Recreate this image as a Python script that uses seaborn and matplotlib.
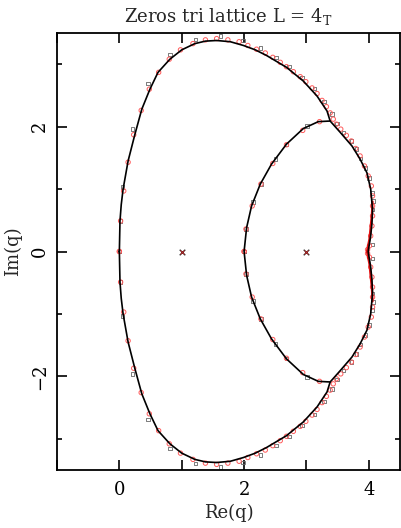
import numpy as np
import pandas as pd
import matplotlib
matplotlib.use("Agg")
import matplotlib.pyplot as plt
from matplotlib.ticker import FuncFormatter
import seaborn as sns

# ---- data (upper half; lower half is the complex conjugate) ----
outer_x = [0.00, 0.01, 0.03, 0.06, 0.14, 0.25, 0.36, 0.49, 0.62, 0.81, 1.00, 1.21, 1.38,
           1.56, 1.78, 1.99, 2.18, 2.36, 2.68, 2.95, 3.17, 3.33, 3.38, 3.54, 3.73, 3.86,
           3.97, 4.03, 4.06, 4.05, 4.03, 3.99]
outer_y = [0.00, 0.49, 0.75, 1.00, 1.45, 1.88, 2.28, 2.60, 2.87, 3.08, 3.23, 3.33, 3.37,
           3.38, 3.36, 3.30, 3.23, 3.14, 2.95, 2.73, 2.49, 2.25, 2.09, 1.91, 1.69, 1.48,
           1.26, 1.00, 0.67, 0.45, 0.25, 0.00]
inner_x = [3.38, 3.19, 2.95, 2.68, 2.44, 2.26, 2.12, 2.04, 2.00]
inner_y = [2.09, 2.08, 1.97, 1.72, 1.40, 1.08, 0.73, 0.38, 0.00]
red_seg_x = [4.06, 4.05, 4.03, 4.01, 3.97]
red_seg_y = [0.80, 0.60, 0.40, 0.20, 0.00]

circ_x = [0.00, 0.02, 0.07, 0.14, 0.23, 0.35, 0.48, 0.63, 0.80, 0.98, 1.18, 1.38, 1.56,
          1.74, 1.92, 2.06, 2.20, 2.34, 2.46, 2.58, 2.68, 2.79, 2.90, 2.99, 3.09, 3.17,
          3.25, 3.32, 3.38, 3.43, 3.48, 3.55, 3.64, 3.72, 3.79, 3.86, 3.93, 3.99, 4.04,
          4.06, 4.06, 4.06, 4.05, 4.03, 4.01, 3.98,
          3.21, 2.94, 2.68, 2.46, 2.27, 2.13, 2.03, 2.00]
circ_y = [0.00, 0.49, 0.97, 1.43, 1.87, 2.26, 2.60, 2.87, 3.08, 3.23, 3.33, 3.39, 3.41,
          3.39, 3.36, 3.30, 3.24, 3.18, 3.11, 3.03, 2.96, 2.88, 2.80, 2.72, 2.62, 2.53,
          2.42, 2.32, 2.22, 2.12, 2.04, 1.96, 1.86, 1.77, 1.65, 1.53, 1.37, 1.21, 1.05,
          0.89, 0.73, 0.57, 0.41, 0.25, 0.09, 0.03,
          2.08, 1.94, 1.71, 1.41, 1.08, 0.73, 0.36, 0.00]

sq_x = [0.00, 0.02, 0.05, 0.21, 0.46, 0.81, 1.22, 1.62, 1.98, 2.26, 2.51, 2.72, 2.93,
        3.13, 3.28, 3.41, 3.49, 3.59, 3.72, 3.80, 3.87, 3.95, 4.00, 4.05, 4.07, 4.06, 4.06,
        3.01, 2.68, 2.50, 2.27, 2.14, 2.03, 2.00]
sq_y = [0.00, 0.49, 1.03, 1.96, 2.69, 3.16, 3.40, 3.45, 3.38, 3.26, 3.11, 2.96, 2.79,
        2.61, 2.40, 2.20, 2.05, 1.91, 1.77, 1.64, 1.49, 1.34, 1.18, 0.94, 0.81, 0.67, 0.11,
        2.01, 1.71, 1.48, 1.08, 0.79, 0.36, 0.00]

cross_x = [1.0, 3.0]
cross_y = [0.0, 0.0]

x_ticks = [-1, 0, 1, 2, 3, 4]
x_labels = {0: "0", 2: "2", 4: "4"}
y_major = [-2, 0, 2]
y_minor = [-3, -1, 1, 3]


def conj_closed(xs, ys):
    """upper half followed by its mirror image (complex conjugates), reversed"""
    return (list(xs) + list(xs[::-1]), list(ys) + [-v for v in ys[::-1]])


def conj_points(xs, ys):
    return (list(xs) + list(xs), list(ys) + [-v for v in ys])


ox, oy = conj_closed(outer_x, outer_y)
ix, iy = conj_closed(inner_x, inner_y)
rx, ry = conj_closed(red_seg_x, red_seg_y)
cx, cy = conj_points(circ_x, circ_y)
qx, qy = conj_points(sq_x, sq_y)

df_outer = pd.DataFrame({"x": ox, "y": oy})
df_inner = pd.DataFrame({"x": ix, "y": iy})
df_red = pd.DataFrame({"x": rx, "y": ry})
df_circ = pd.DataFrame({"x": cx, "y": cy})
df_sq = pd.DataFrame({"x": qx, "y": qy})
df_cross = pd.DataFrame({"x": cross_x, "y": cross_y})

sns.set_theme(style="ticks")
plt.rcParams["font.family"] = ["DejaVu Serif"]
plt.rcParams["mathtext.fontset"] = "dejavuserif"

fig = plt.figure(figsize=(4.02, 5.28), dpi=100)
ax = fig.add_axes([57 / 402, 58 / 528, 343 / 402, 437 / 528])

sns.lineplot(data=df_red, x="x", y="y", sort=False, estimator=None, color="#e01010",
             lw=1.6, ax=ax)
sns.lineplot(data=df_outer, x="x", y="y", sort=False, estimator=None, color="black",
             lw=1.2, ax=ax)
sns.lineplot(data=df_inner, x="x", y="y", sort=False, estimator=None, color="black",
             lw=1.2, ax=ax)
sns.scatterplot(data=df_sq, x="x", y="y", marker="s", s=6, facecolor="none",
                edgecolor="#666666", linewidth=0.6, ax=ax)
sns.scatterplot(data=df_circ, x="x", y="y", marker="o", s=10, facecolor="none",
                edgecolor="#ff5a5a", linewidth=0.7, ax=ax)
sns.scatterplot(data=df_cross, x="x", y="y", marker="x", s=16, color="#333333",
                linewidth=1.0, ax=ax)
sns.scatterplot(data=df_cross, x="x", y="y", marker="x", s=8, color="#cc2020",
                linewidth=0.6, ax=ax)

ax.set_xlim(-1, 4.5)
ax.set_ylim(-3.5, 3.5)

ax.xaxis.set_major_locator(plt.FixedLocator(x_ticks))
ax.xaxis.set_major_formatter(FuncFormatter(lambda v, p: x_labels.get(int(round(v)), "")))
ax.yaxis.set_major_locator(plt.FixedLocator(y_major))
ax.yaxis.set_minor_locator(plt.FixedLocator(y_minor))
ax.yaxis.set_major_formatter(FuncFormatter(lambda v, p: f"{v:g}".replace("-", "\u2212")))

ax.tick_params(which="both", direction="in", top=True, right=True, width=1.2,
               colors="black", labelsize=13)
ax.tick_params(axis="x", which="major", length=7, pad=8)
ax.tick_params(axis="y", which="major", length=7.5, pad=6)
ax.tick_params(axis="y", which="minor", length=3.8)
for lab in ax.get_yticklabels():
    lab.set_rotation(90)
    lab.set_va("center")
for s in ax.spines.values():
    s.set_linewidth(1.3)
    s.set_color("black")

ax.set_xlabel("Re(q)", fontsize=13, labelpad=3)
ax.set_ylabel("Im(q)", fontsize=13, labelpad=6)
ax.set_title("Zeros tri lattice L = 4$_\\mathrm{T}$", fontsize=13, pad=8)

fig.savefig("out.png", dpi=100)
